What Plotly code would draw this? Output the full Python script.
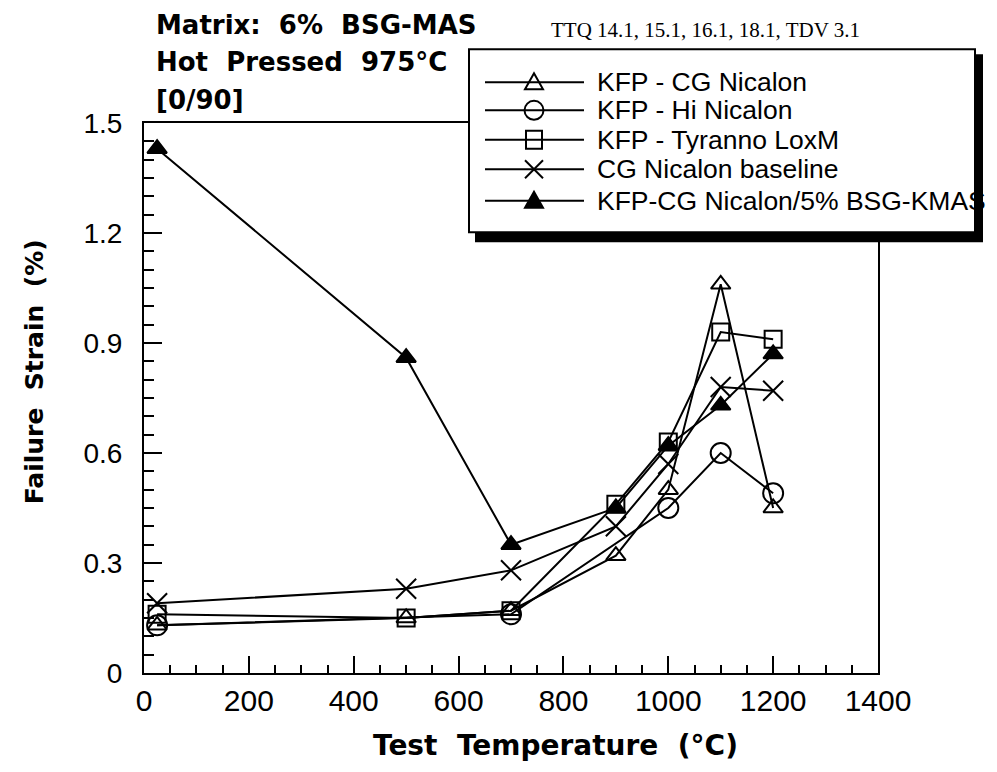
import plotly.graph_objects as go

# ---------------- data ----------------
temp_all = [25, 500, 700, 900, 1000, 1100, 1200]
temp_hi = [25, 700, 1000, 1100, 1200]

strain_cg_nicalon = [0.13, 0.15, 0.17, 0.32, 0.50, 1.06, 0.45]
strain_hi_nicalon = [0.13, 0.16, 0.45, 0.60, 0.49]
strain_tyranno = [0.16, 0.15, 0.17, 0.46, 0.63, 0.93, 0.91]
strain_baseline = [0.19, 0.23, 0.28, 0.40, 0.57, 0.78, 0.77]
strain_bsg_kmas = [1.43, 0.86, 0.35, 0.45, 0.62, 0.73, 0.87]

series_names = [
    "KFP - CG Nicalon",
    "KFP - Hi Nicalon",
    "KFP - Tyranno LoxM",
    "CG Nicalon baseline",
    "KFP-CG Nicalon/5% BSG-KMAS",
]
x_ticks = [0, 200, 400, 600, 800, 1000, 1200, 1400]
y_ticks = [0, 0.3, 0.6, 0.9, 1.2, 1.5]
y_tick_labels = ["0", "0.3", "0.6", "0.9", "1.2", "1.5"]

title_lines = ["Matrix:  6%  BSG-MAS", "Hot  Pressed  975°C", "[0/90]"]
note_text = "TTQ 14.1, 15.1, 16.1, 18.1, TDV 3.1"
x_title = "Test  Temperature  (°C)"
y_title = "Failure  Strain  (%)"

# ---------------- geometry (page pixel coords) ----------------
W, H = 997, 772
OFF = 8  # body margin of the html page
L, R, T, B = 144, 878, 122.7, 672.7


def px(xp):
    return (xp - L) / (R - L)


def py(yp):
    return (B - yp) / (B - T)


fig = go.Figure()

styles = [
    (temp_all, strain_cg_nicalon, "triangle-up-open", 17),
    (temp_hi, strain_hi_nicalon, "circle-open", 20),
    (temp_all, strain_tyranno, "square-open", 17),
    (temp_all, strain_baseline, "x-thin-open", 20),
    (temp_all, strain_bsg_kmas, "triangle-up", 17),
]
for name, (xs, ys, sym, sz) in zip(series_names, styles):
    fig.add_trace(go.Scatter(
        x=xs, y=ys, name=name, mode="lines+markers",
        line=dict(color="black", width=2),
        marker=dict(symbol=sym, size=sz, color="black",
                    line=dict(color="black", width=2)),
        showlegend=False,
    ))

# ---------------- custom legend ----------------
shapes = []
annotations = []
shapes.append(dict(type="rect", xref="paper", yref="paper",
                   x0=px(475), x1=px(983), y0=py(54), y1=py(242),
                   fillcolor="black", line=dict(width=0), layer="above"))
shapes.append(dict(type="rect", xref="paper", yref="paper",
                   x0=px(469), x1=px(975), y0=py(49), y1=py(232),
                   fillcolor="white", line=dict(color="black", width=2), layer="above"))
row_y = [82, 110, 139.5, 169, 200.5]
mx = 534
for i, (name, yy) in enumerate(zip(series_names, row_y)):
    shapes.append(dict(type="line", xref="paper", yref="paper",
                       x0=px(485), x1=px(584), y0=py(yy), y1=py(yy),
                       line=dict(color="black", width=2), layer="above"))
    if i == 0 or i == 4:
        path = "M {} {} L {} {} L {} {} Z".format(
            px(mx - 9), py(yy + 7), px(mx + 9), py(yy + 7), px(mx), py(yy - 9))
        shapes.append(dict(type="path", xref="paper", yref="paper", path=path,
                           fillcolor="black" if i == 4 else "rgba(0,0,0,0)",
                           line=dict(color="black", width=2), layer="above"))
    elif i == 1:
        shapes.append(dict(type="circle", xref="paper", yref="paper",
                           x0=px(mx - 9.5), x1=px(mx + 9.5), y0=py(yy - 9.5), y1=py(yy + 9.5),
                           line=dict(color="black", width=2), layer="above"))
    elif i == 2:
        shapes.append(dict(type="rect", xref="paper", yref="paper",
                           x0=px(mx - 8), x1=px(mx + 8), y0=py(yy - 9), y1=py(yy + 9),
                           line=dict(color="black", width=2), layer="above"))
    elif i == 3:
        for s in (1, -1):
            shapes.append(dict(type="line", xref="paper", yref="paper",
                               x0=px(mx - 9), x1=px(mx + 9), y0=py(yy - 9 * s), y1=py(yy + 9 * s),
                               line=dict(color="black", width=2), layer="above"))
    annotations.append(dict(text=name, xref="paper", yref="paper",
                            x=px(595), y=py(yy), xanchor="left", yanchor="middle",
                            showarrow=False,
                            font=dict(family="Liberation Sans, Arial", size=26.5, color="black")))

# titles
for txt, yy in zip(title_lines, [25, 62, 100]):
    annotations.append(dict(text="<b>" + txt + "</b>", xref="paper", yref="paper",
                            x=px(154), y=py(yy), xanchor="left", yanchor="middle",
                            showarrow=False,
                            font=dict(family="DejaVu Sans", size=26, color="black")))
annotations.append(dict(text=note_text, xref="paper", yref="paper",
                        x=px(549), y=py(30), xanchor="left", yanchor="middle",
                        showarrow=False,
                        font=dict(family="Liberation Serif, Times New Roman", size=21, color="black")))
annotations.append(dict(text="<b>" + x_title + "</b>", xref="paper", yref="paper",
                        x=px(555), y=py(745), xanchor="center", yanchor="middle",
                        showarrow=False,
                        font=dict(family="DejaVu Sans", size=28, color="black")))
annotations.append(dict(text="<b>" + y_title + "</b>", xref="paper", yref="paper",
                        x=px(34), y=py(372), xanchor="center", yanchor="middle",
                        textangle=-90, showarrow=False,
                        font=dict(family="DejaVu Sans", size=25, color="black")))

fig.update_layout(
    width=W - OFF, height=H - OFF,
    margin=dict(l=L - OFF, r=W - R, t=T - OFF, b=H - B, autoexpand=False),
    paper_bgcolor="white", plot_bgcolor="white",
    showlegend=False,
    shapes=shapes, annotations=annotations,
)
fig.update_xaxes(
    range=[0, 1400], tickvals=x_ticks, ticktext=[str(v) for v in x_ticks],
    ticks="inside", ticklen=17, tickwidth=2, tickcolor="black",
    minor=dict(dtick=50, tick0=0, ticks="inside", ticklen=8, tickwidth=1.5, tickcolor="black"),
    showline=True, linewidth=2, linecolor="black", mirror=True,
    showgrid=False, zeroline=False,
    tickfont=dict(family="Liberation Sans, Arial", size=30, color="black"),
    ticklabelstandoff=0,
)
fig.update_yaxes(
    range=[0, 1.5], tickvals=y_ticks, ticktext=y_tick_labels,
    ticks="inside", ticklen=18, tickwidth=2, tickcolor="black",
    minor=dict(dtick=0.05, tick0=0, ticks="inside", ticklen=10, tickwidth=1.5, tickcolor="black"),
    showline=True, linewidth=2, linecolor="black", mirror=True,
    showgrid=False, zeroline=False,
    tickfont=dict(family="Liberation Sans, Arial", size=28, color="black"),
    ticklabelstandoff=14,
)

fig.write_html("out.html")
